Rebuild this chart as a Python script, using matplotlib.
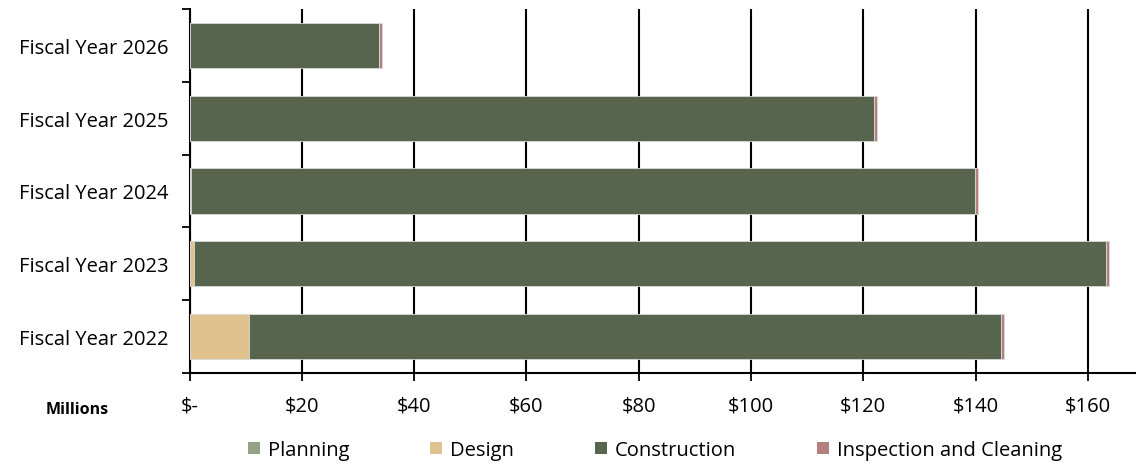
import matplotlib
matplotlib.use("Agg")
import matplotlib.pyplot as plt
import numpy as np

categories = ["Fiscal Year 2022", "Fiscal Year 2023", "Fiscal Year 2024", "Fiscal Year 2025", "Fiscal Year 2026"]
planning = [0.05, 0.05, 0.05, 0.05, 0.05]
design = [10.6, 0.7, 0.3, 0.0, 0.0]
construction = [133.9, 162.5, 139.6, 121.9, 33.7]
inspection = [0.5, 0.5, 0.5, 0.5, 0.5]
series_names = ["Planning", "Design", "Construction", "Inspection and Cleaning"]
tick_values = [0, 20, 40, 60, 80, 100, 120, 140, 160]
tick_labels = ["$-", "$20", "$40", "$60", "$80", "$100", "$120", "$140", "$160"]

colors = ["#94A385", "#DFC28E", "#58654E", "#B3807F"]

plt.rcParams['font.family'] = ['Open Sans', 'DejaVu Sans']
fig = plt.figure(figsize=(11.36, 4.64), dpi=100)
ax = fig.add_axes([189.5/1136, 1-374/464, (1135-189.5)/1136, (374-10)/464])

y = np.arange(len(categories))
left = np.zeros(len(categories))
for name, vals, c in zip(series_names, [planning, design, construction, inspection], colors):
    ax.barh(y, vals, left=left, height=0.62, color=c, label=name,
            edgecolor="#D9D9D9", linewidth=0.6, zorder=3)
    left = left + np.array(vals)

fs = 14.5
ax.set_xlim(0, 168.4)
ax.set_ylim(-0.5, len(categories) - 0.5)
ax.set_xticks(tick_values)
ax.set_xticklabels(tick_labels, fontsize=fs)
ax.set_yticks(y)
ax.set_yticklabels(categories, fontsize=fs)
ax.set_yticks(np.arange(-0.5, len(categories)), minor=True)
ax.tick_params(axis='y', which='major', length=0, pad=15)
ax.tick_params(axis='y', which='minor', length=6, width=1.3, color='black', direction='out')
ax.tick_params(axis='x', which='major', length=6, width=1.3, color='black', direction='out', pad=10)
ax.grid(axis='x', color='black', linewidth=1.5, zorder=0)
ax.set_axisbelow(True)
for s in ['top', 'right']:
    ax.spines[s].set_visible(False)
for s in ['left', 'bottom']:
    ax.spines[s].set_linewidth(1.5)
    ax.spines[s].set_color('black')

fig.text(77/1136, 1-410/464, "Millions", fontsize=11.5, fontweight='bold', ha='center', va='center')

handles, labels = ax.get_legend_handles_labels()
leg = fig.legend(handles, labels, loc='center', bbox_to_anchor=(655/1136, 1-451/464), ncol=4,
                 frameon=False, fontsize=fs, handlelength=0.6, handleheight=0.6,
                 handletextpad=0.4, columnspacing=4.0)
for h in leg.legend_handles:
    h.set_edgecolor('none')

fig.savefig("out.png", dpi=100)
